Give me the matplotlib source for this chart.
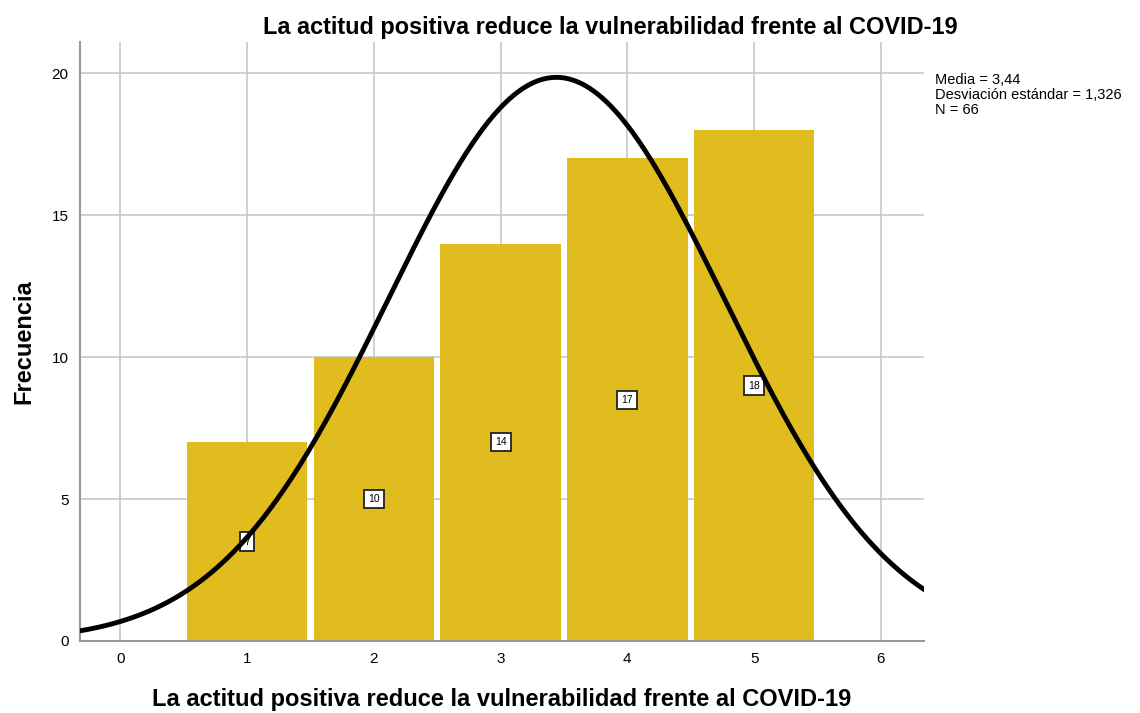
import numpy as np
import matplotlib.pyplot as plt

plt.rcParams['font.family'] = ['Liberation Sans', 'DejaVu Sans']

# data
categorias = [1, 2, 3, 4, 5]
frecuencias = [7, 10, 14, 17, 18]
media = 3.44
desv = 1.326
n = 66

titulo = "La actitud positiva reduce la vulnerabilidad frente al COVID-19"

fig = plt.figure(figsize=(11.4, 7.13), dpi=100)
ax = fig.add_axes([0.070, 0.101, 0.7405, 0.840])

ax.bar(categorias, frecuencias, width=0.95, color='#E0BC1F',
       linewidth=0, zorder=2)

# etiquetas de frecuencia en el centro de cada barra
for c, f in zip(categorias, frecuencias):
    ax.text(c, f / 2, str(f), ha='center', va='center', fontsize=7.5,
            bbox=dict(boxstyle='square,pad=0.4', fc='white', ec='#222222', lw=1.3),
            zorder=3)

# curva normal
xs = np.linspace(-0.32, 6.34, 400)
ys = n * 1.0 / (desv * np.sqrt(2 * np.pi)) * np.exp(-0.5 * ((xs - media) / desv) ** 2)
ax.plot(xs, ys, color='black', lw=3.5, zorder=4)

ax.set_xlim(-0.32, 6.34)
ax.set_ylim(0, 21.1)
ax.set_xticks(range(0, 7))
ax.set_yticks([0, 5, 10, 15, 20])
ax.grid(True, color='#c8c8c8', lw=1.2, zorder=0)
ax.set_axisbelow(True)
for s in ['top', 'right']:
    ax.spines[s].set_visible(False)
for s in ['left', 'bottom']:
    ax.spines[s].set_color('#999999')
    ax.spines[s].set_linewidth(1.5)
ax.tick_params(length=0, labelsize=11, pad=8)

fig.text(0.535, 0.961, titulo, fontsize=16.9, fontweight='bold',
         ha='center', va='center')
ax.set_xlabel(titulo, fontsize=17, fontweight='bold', labelpad=16)
ax.set_ylabel("Frecuencia", fontsize=17, fontweight='bold', labelpad=12)

fig.text(0.820, 0.898, "Media = 3,44\nDesviación estándar = 1,326\nN = 66",
         fontsize=10.5, va='top', ha='left', linespacing=1.1)

fig.savefig('out.png', dpi=100)
